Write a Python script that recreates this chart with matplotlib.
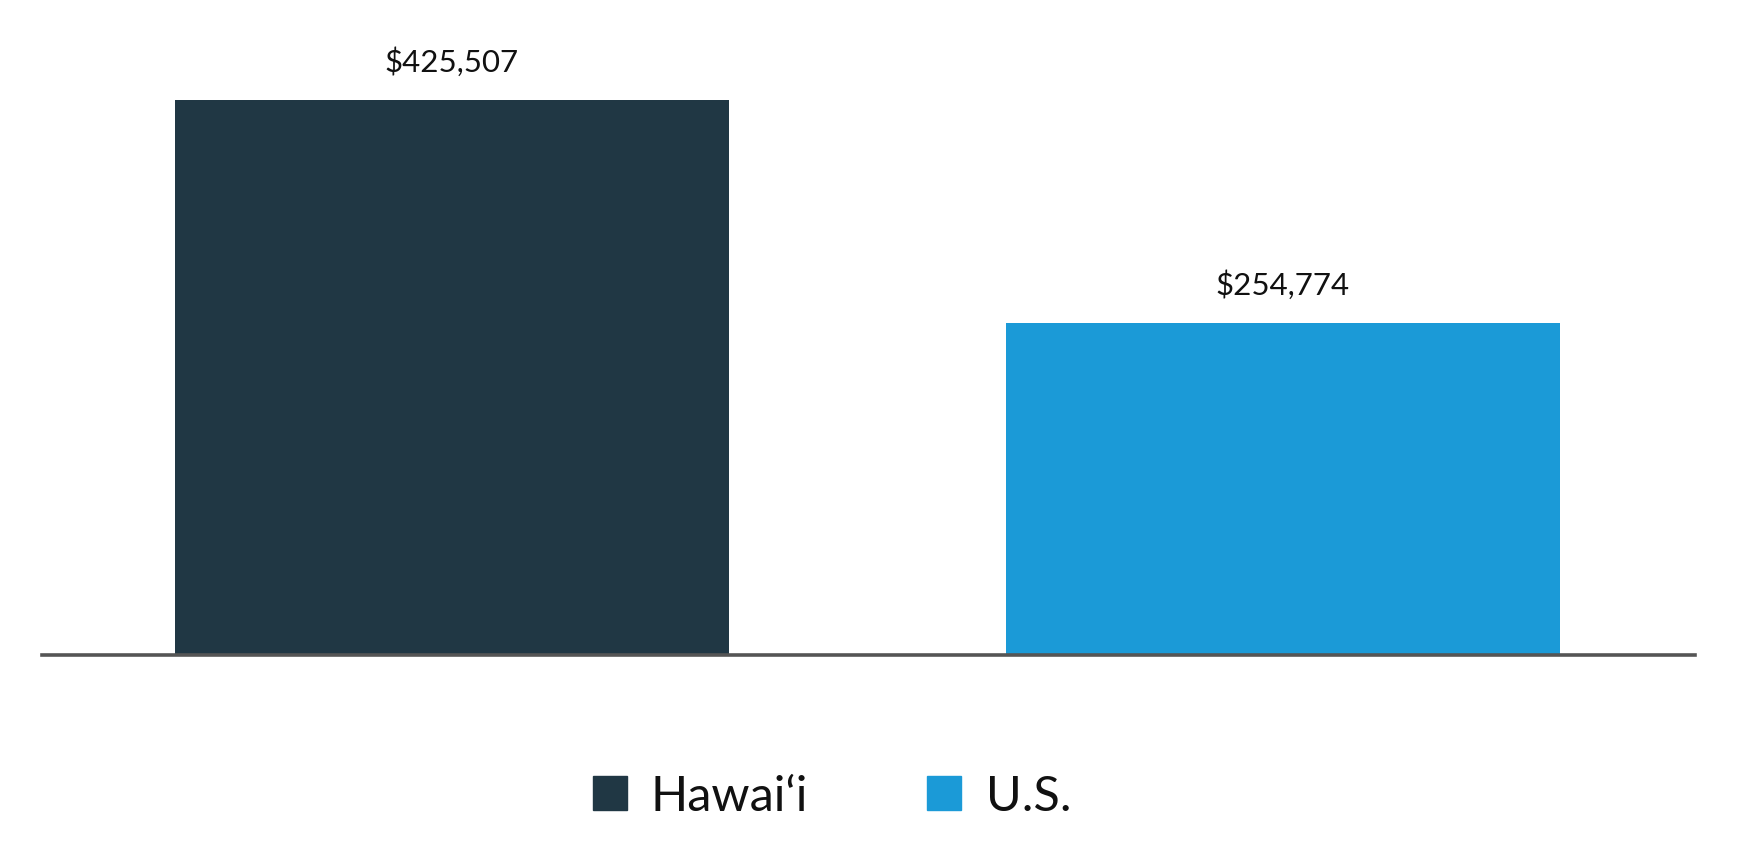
import matplotlib
matplotlib.use("Agg")
import matplotlib.pyplot as plt
from matplotlib.lines import Line2D

# data
categories = ["Hawai\u2018i", "U.S."]
values = [425507, 254774]
labels = ["$425,507", "$254,774"]
colors = ["#203744", "#1b9ad7"]

plt.rcParams['font.family'] = ['Lato', 'DejaVu Sans']

fig = plt.figure(figsize=(17.42, 8.53), dpi=100)
ax = fig.add_axes([42 / 1742, 197 / 853, 1653 / 1742, 634 / 853])

x = list(range(len(categories)))
bars = ax.bar(x, values, width=0.667, color=colors, zorder=1)

# value labels above bars
for b, lab in zip(bars, labels):
    ax.annotate(lab, (b.get_x() + b.get_width() / 2, b.get_height()),
                xytext=(0, 21), textcoords="offset points",
                ha="center", va="baseline", fontsize=22.5, color="#111111")

ax.set_xlim(-0.493, 1.496)
ax.set_ylim(0, 486000)

for s in ["top", "left", "right"]:
    ax.spines[s].set_visible(False)
ax.spines["bottom"].set_color("#555555")
ax.spines["bottom"].set_linewidth(2.6)
ax.spines["bottom"].set_zorder(3)
ax.set_xticks([])
ax.set_yticks([])

handles = [Line2D([], [], marker="s", linestyle="none", markersize=24.5,
                  markerfacecolor=c, markeredgecolor=c) for c in colors]
fig.legend(handles, categories, loc="center", bbox_to_anchor=(0.4776, 0.066),
           ncol=2, frameon=False, fontsize=35, handlelength=0.7,
           handletextpad=0.5, columnspacing=2.45, labelcolor="#111111")

fig.savefig("out.png", dpi=100)
